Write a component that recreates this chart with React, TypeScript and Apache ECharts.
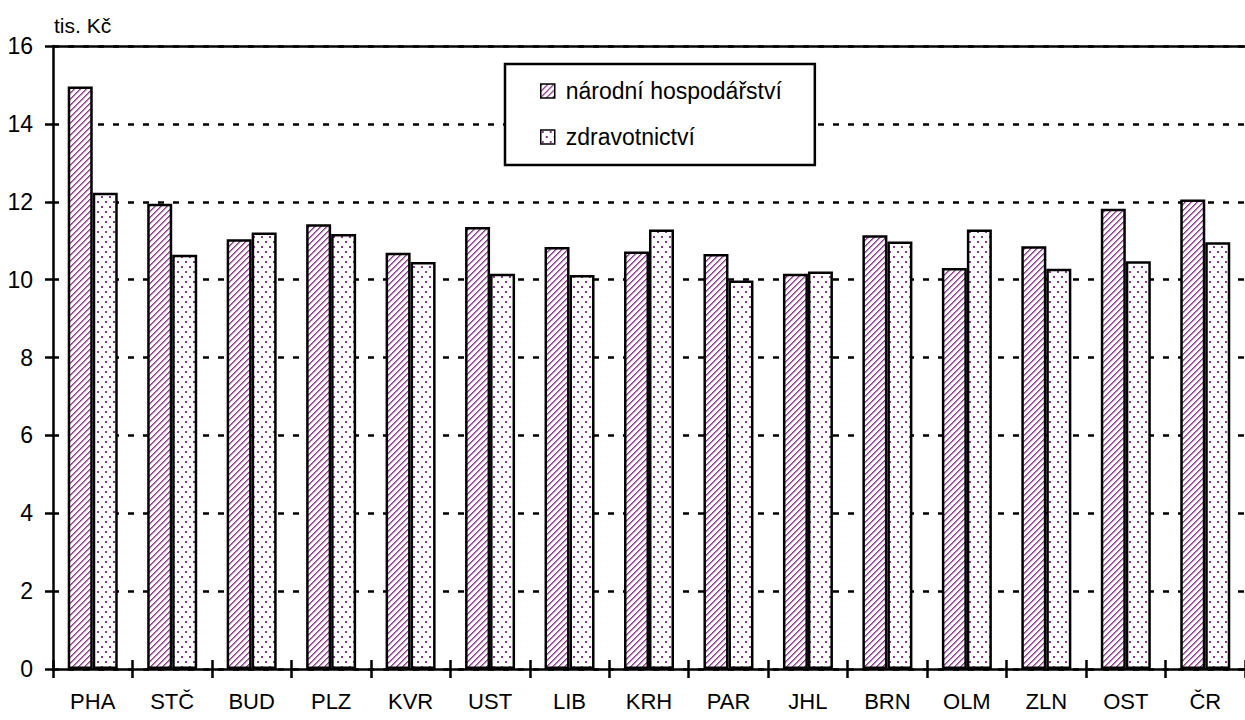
import React, { useEffect, useRef } from "react";
import * as echarts from "echarts";

const categories = ["PHA", "STČ", "BUD", "PLZ", "KVR", "UST", "LIB", "KRH", "PAR", "JHL", "BRN", "OLM", "ZLN", "OST", "ČR"];
const narodniHospodarstvi = [14.96, 11.95, 11.04, 11.42, 10.69, 11.35, 10.84, 10.72, 10.66, 10.15, 11.14, 10.3, 10.86, 11.82, 12.06];
const zdravotnictvi = [12.23, 10.64, 11.21, 11.17, 10.45, 10.15, 10.12, 11.29, 9.98, 10.21, 10.98, 11.29, 10.28, 10.47, 10.96];
const seriesNames = ["národní hospodářství", "zdravotnictví"];
const yMin = 0;
const yMax = 16;
const yStep = 2;
const unitLabel = "tis. Kč";

const FONT = '"Liberation Sans", Arial, sans-serif';
const PURPLE = "#8b3a8b";
const LW = 2.5;

function makeHatch(): HTMLCanvasElement {
  const c = document.createElement("canvas");
  c.width = 6;
  c.height = 6;
  const ctx = c.getContext("2d")!;
  ctx.fillStyle = "#ffffff";
  ctx.fillRect(0, 0, 6, 6);
  for (let x = 0; x < 6; x++) {
    for (let y = 0; y < 6; y++) {
      const d = (x + y) % 6;
      if (d === 0) {
        ctx.fillStyle = PURPLE;
        ctx.fillRect(x, y, 1, 1);
      } else if (d === 1) {
        ctx.fillStyle = "#b47ab4";
        ctx.fillRect(x, y, 1, 1);
      } else if (d === 2) {
        ctx.fillStyle = "#ead9ea";
        ctx.fillRect(x, y, 1, 1);
      }
    }
  }
  return c;
}

function makeDots(): HTMLCanvasElement {
  const c = document.createElement("canvas");
  c.width = 8;
  c.height = 10;
  const ctx = c.getContext("2d")!;
  ctx.fillStyle = "#ffffff";
  ctx.fillRect(0, 0, 8, 10);
  ctx.fillStyle = PURPLE;
  ctx.fillRect(1, 1, 2, 2);
  ctx.fillRect(5, 6, 2, 2);
  return c;
}

export default function App() {
  const ref = useRef<HTMLDivElement>(null);

  useEffect(() => {
    if (!ref.current) return;
    const chart = echarts.init(ref.current, null, { renderer: "svg" });
    const hatch = makeHatch();
    const dots = makeDots();
    const hatchPattern: any = { image: hatch, repeat: "repeat", imageWidth: 6, imageHeight: 6 };
    const dotPattern: any = { image: dots, repeat: "repeat", imageWidth: 8, imageHeight: 10 };

    const option: any = {
      animation: false,
      textStyle: { fontFamily: FONT, color: "#000" },
      grid: { left: 53, right: -8, top: 46, bottom: 51, containLabel: false },
      legend: {
        data: seriesNames,
        orient: "vertical",
        left: 505,
        top: 64,
        padding: [15, 33, 16, 35],
        borderColor: "#000",
        borderWidth: LW,
        backgroundColor: "#fff",
        itemWidth: 14,
        itemHeight: 14,
        itemGap: 22,
        icon: "rect",
        selectedMode: false,
        itemStyle: { borderColor: "#000", borderWidth: 1.5 },
        textStyle: { fontSize: 23, lineHeight: 24, color: "#000", fontFamily: FONT, padding: [0, 0, 0, 6] },
      },
      graphic: [
        {
          type: "text",
          left: 54,
          top: 15,
          style: { text: unitLabel, fontSize: 21, fill: "#000", fontFamily: FONT },
        },
      ],
      xAxis: [
        {
          type: "category",
          data: categories,
          position: "bottom",
          axisLine: { show: true, lineStyle: { color: "#000", width: LW } },
          axisTick: { show: true, length: 9, lineStyle: { color: "#000", width: LW } },
          axisLabel: { fontSize: 22, color: "#000", margin: 21, fontFamily: FONT },
          splitLine: { show: false },
        },
        {
          type: "category",
          data: categories,
          position: "bottom",
          axisLine: { show: false },
          axisTick: { show: true, inside: true, length: 9, lineStyle: { color: "#000", width: LW } },
          axisLabel: { show: false },
          splitLine: { show: false },
        },
      ],
      yAxis: {
        type: "value",
        min: yMin,
        max: yMax,
        interval: yStep,
        axisLine: { show: true, lineStyle: { color: "#000", width: LW } },
        axisTick: { show: true, length: 8, lineStyle: { color: "#000", width: LW } },
        axisLabel: { fontSize: 23, color: "#000", margin: 20, fontFamily: FONT },
        splitLine: { show: true, lineStyle: { color: "#000", width: LW, type: [6, 9] } },
      },
      series: [
        {
          type: "bar",
          name: seriesNames[0],
          data: narodniHospodarstvi,
          barWidth: 25,
          barGap: "0%",
          itemStyle: { color: hatchPattern, borderColor: "#000", borderWidth: LW },
          markLine: {
            silent: true,
            symbol: "none",
            label: { show: false },
            lineStyle: { color: "#000", type: "solid", width: LW },
            data: [{ yAxis: yMax }],
          },
        },
        {
          type: "bar",
          name: seriesNames[1],
          data: zdravotnictvi,
          barWidth: 25,
          barGap: "0%",
          itemStyle: { color: dotPattern, borderColor: "#000", borderWidth: LW },
        },
      ],
    };
    chart.setOption(option);
    return () => chart.dispose();
  }, []);

  return <div ref={ref} style={{ position: "absolute", left: 0, top: 0, width: 1245, height: 720 }} />;
}
